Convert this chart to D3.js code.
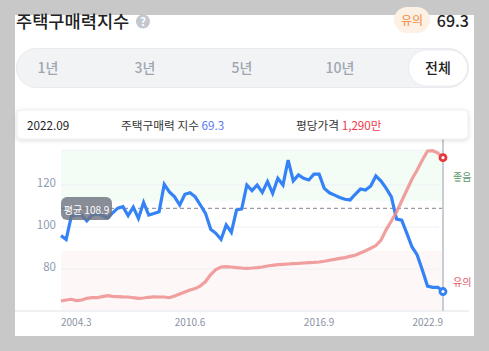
<!DOCTYPE html>
<html>
<head>
<meta charset="utf-8">
<script src="https://cdn.jsdelivr.net/npm/d3@7"></script>
<style>
html,body{margin:0;padding:0;background:#c8c8c8;}
svg{display:block;}
text{font-family:"Noto Sans CJK KR","Noto Sans",sans-serif;}
</style>
</head>
<body>
<div id="chart"></div>
<script>
var W=489,H=351;

// quarterly, 2004.3 ~ 2022.9
var buyIndex=[95.9,94.1,105.2,105.7,105.7,102.9,105.7,106.2,105.5,104.3,106.7,109,109.7,105.4,109.5,104.1,111.7,105.7,106.4,107.3,
120.3,116.7,114.4,110.5,115.6,116.3,114.4,110.5,106.5,98.9,97,94.1,101,97.5,108.1,108.6,120,117.3,120,116.5,
121.6,116,123.2,120,131.9,122,124.8,123.2,122.4,125.2,125.2,118.4,116.3,115.2,114.1,113.2,112.9,115.6,118.1,117.6,
119.5,124.3,121.9,118.4,114.4,103.8,103.3,97,90.5,86.7,79.5,71.9,71.3,71.3,69.3];
var pricePerPyeong=[287,294,299,290,294,306,310,310,318,324,320,318,316,315,310,306,308,313,316,315,
315,310,322,336,350,364,374,392,423,472,507,525,527,525,521,518,516,518,521,525,
532,537,541,544,546,548,550,553,555,557,560,565,572,578,585,591,599,607,623,639,
656,675,714,787,847,910,987,1064,1141,1204,1274,1337,1339,1323,1290];

var xLabels=[{i:0,t:"2004.3",a:"start"},{i:25,t:"2010.6",a:"middle"},{i:50,t:"2016.9",a:"middle"},{i:74,t:"2022.9",a:"end"}];
var yTicks=[80,100,120];
var tabs=["1년","3년","5년","10년","전체"];
var average=108.9;
var goodLine=112.4;
var badLine=88.6;

var svg=d3.select("#chart").append("svg")
	.attr("width",W)
	.attr("height",H);

var defs=svg.append("defs");
var shadow=defs.append("filter").attr("id","shadow")
	.attr("x","-5%").attr("y","-30%").attr("width","110%").attr("height","170%");
shadow.append("feDropShadow")
	.attr("dx",0).attr("dy",1).attr("stdDeviation",2)
	.attr("flood-color","#000").attr("flood-opacity",0.14);

// white card
svg.append("rect")
	.attr("x",15).attr("y",15)
	.attr("width",459).attr("height",321)
	.attr("fill","#fff");

// header
svg.append("text")
	.text("주택구매력지수")
	.attr("x",16).attr("y",28)
	.attr("font-size",17.6)
	.attr("font-weight",500)
	.attr("fill","#222");
svg.append("circle")
	.attr("cx",143).attr("cy",21.5).attr("r",7)
	.attr("fill","#c3c8d0");
svg.append("text")
	.text("?")
	.attr("x",143).attr("y",25.5)
	.attr("text-anchor","middle")
	.attr("font-size",11)
	.attr("font-weight",700)
	.attr("fill","#fff");
svg.append("rect")
	.attr("x",394).attr("y",7)
	.attr("width",36).attr("height",26).attr("rx",13)
	.attr("fill","#fdf0e4");
svg.append("text")
	.text("유의")
	.attr("x",412).attr("y",25)
	.attr("text-anchor","middle")
	.attr("font-size",12)
	.attr("fill","#f28b3c");
svg.append("text")
	.text(buyIndex[buyIndex.length-1])
	.attr("x",469).attr("y",27)
	.attr("text-anchor","end")
	.attr("font-size",16)
	.attr("font-weight",500)
	.attr("fill","#222");

// period tabs
svg.append("rect")
	.attr("x",16.5).attr("y",48.5)
	.attr("width",452).attr("height",39).attr("rx",19.5)
	.attr("fill","#f1f3f5")
	.attr("stroke","#e9ebee");
svg.append("rect")
	.attr("x",408.5).attr("y",50)
	.attr("width",59).attr("height",36).attr("rx",18)
	.attr("fill","#fff")
	.attr("stroke","#e9ebee");
var tabX=[48,145,242,340,438];
svg.selectAll(".tab")
	.data(tabs)
	.enter()
	.append("text")
	.attr("class","tab")
	.text(function(d){return d;})
	.attr("x",function(d,i){return tabX[i];})
	.attr("y",73)
	.attr("text-anchor","middle")
	.attr("font-size",14)
	.attr("font-weight",500)
	.attr("fill",function(d,i){return i==4?"#222":"#a0a6b0";});

// chart
var x=d3.scaleLinear().domain([0,buyIndex.length-1]).range([61,443]);
var y=d3.scaleLinear().domain([60.5,136.2]).range([310,151]);
var yPrice=d3.scaleLinear().domain([0,1400]).range([342,142]);

svg.append("rect")
	.attr("x",61).attr("y",y(136.2))
	.attr("width",382).attr("height",y(goodLine)-y(136.2))
	.attr("fill","#f3fdf5");
svg.append("rect")
	.attr("x",61).attr("y",y(badLine))
	.attr("width",382).attr("height",y(60.5)-y(badLine))
	.attr("fill","#fdf7f7");
svg.append("line")
	.attr("x1",61).attr("x2",443)
	.attr("y1",150.5).attr("y2",150.5)
	.attr("stroke","#f2f3f5")
	.attr("stroke-width",1);
svg.append("line")
	.attr("x1",15).attr("x2",469)
	.attr("y1",311).attr("y2",311)
	.attr("stroke","#eff0f2")
	.attr("stroke-width",2);

var yAxis=svg.append("g")
	.attr("transform","translate(61,0)")
	.call(d3.axisLeft(y).tickValues(yTicks).tickSize(0).tickPadding(5));
yAxis.select(".domain").remove();
yAxis.selectAll("text")
	.attr("dy",1)
	.attr("font-size",11.5)
	.attr("fill","#8d9bb0")
	.style("font-family","'Noto Sans CJK KR'");
svg.selectAll(".grid")
	.data(yTicks)
	.enter()
	.append("line")
	.attr("class","grid")
	.attr("x1",61).attr("x2",439)
	.attr("y1",function(d){return y(d);})
	.attr("y2",function(d){return y(d);})
	.attr("stroke","#eeeff2")
	.attr("stroke-width",1);

svg.append("line")
	.attr("x1",61).attr("x2",443)
	.attr("y1",y(average)).attr("y2",y(average))
	.attr("stroke","#9a9aa6")
	.attr("stroke-width",1.3)
	.attr("stroke-dasharray","4 3");
svg.append("line")
	.attr("x1",443).attr("x2",443)
	.attr("y1",139).attr("y2",311)
	.attr("stroke","#c9ccd2")
	.attr("stroke-width",2);

var lineBuy=d3.line()
	.x(function(d,i){return x(i);})
	.y(function(d){return y(d);});
var linePrice=d3.line()
	.x(function(d,i){return x(i);})
	.y(function(d){return yPrice(d);});

svg.append("path")
	.attr("d",lineBuy(buyIndex))
	.attr("fill","none")
	.attr("stroke","#3482f6")
	.attr("stroke-width",3.2);
svg.append("path")
	.attr("d",linePrice(pricePerPyeong))
	.attr("fill","none")
	.attr("stroke","#ee8e8e")
	.attr("stroke-opacity",0.85)
	.attr("stroke-width",3.2);

var last=buyIndex.length-1;
svg.append("circle")
	.attr("cx",x(last)).attr("cy",yPrice(pricePerPyeong[last])).attr("r",3)
	.attr("fill","#fff")
	.attr("stroke","#e8363a")
	.attr("stroke-width",2.8);
svg.append("circle")
	.attr("cx",x(last)).attr("cy",y(buyIndex[last])).attr("r",3)
	.attr("fill","#fff")
	.attr("stroke","#3482f6")
	.attr("stroke-width",2.8);

// average badge
svg.append("rect")
	.attr("x",61).attr("y",197)
	.attr("width",51).attr("height",23).attr("rx",6)
	.attr("fill","#6f7480")
	.attr("fill-opacity",0.82);
svg.append("text")
	.text("평균 "+average)
	.attr("x",86.5).attr("y",214)
	.attr("text-anchor","middle")
	.attr("font-size",10)
	.attr("fill","#fff");

svg.append("text")
	.text("좋음")
	.attr("x",453).attr("y",181)
	.attr("font-size",10)
	.attr("fill","#5b9a6b");
svg.append("text")
	.text("유의")
	.attr("x",453).attr("y",286)
	.attr("font-size",10)
	.attr("fill","#dc5a66");

svg.selectAll(".xlabel")
	.data(xLabels)
	.enter()
	.append("text")
	.attr("class","xlabel")
	.text(function(d){return d.t;})
	.attr("x",function(d){return x(d.i);})
	.attr("y",326)
	.attr("text-anchor",function(d){return d.a;})
	.attr("font-size",10)
	.attr("fill","#8a94a4");

// info box
svg.append("rect")
	.attr("x",17).attr("y",110)
	.attr("width",451).attr("height",29).attr("rx",4)
	.attr("fill","#fff")
	.attr("stroke","#eceef0")
	.attr("filter","url(#shadow)");
var info=svg.append("g").attr("font-size",11.7);
info.append("text").text("2022.09")
	.attr("x",27).attr("y",130)
	.attr("fill","#222");
var idx=info.append("text").attr("x",121).attr("y",129.5);
idx.append("tspan").text("주택구매력 지수 ").attr("fill","#333");
idx.append("tspan").text(buyIndex[last]).attr("fill","#5b7df0");
var pr=info.append("text").attr("x",296).attr("y",129.5);
pr.append("tspan").text("평당가격 ").attr("fill","#333");
pr.append("tspan").text(d3.format(",")(pricePerPyeong[last])+"만").attr("fill","#ee3b4b");
</script>
</body>
</html>
